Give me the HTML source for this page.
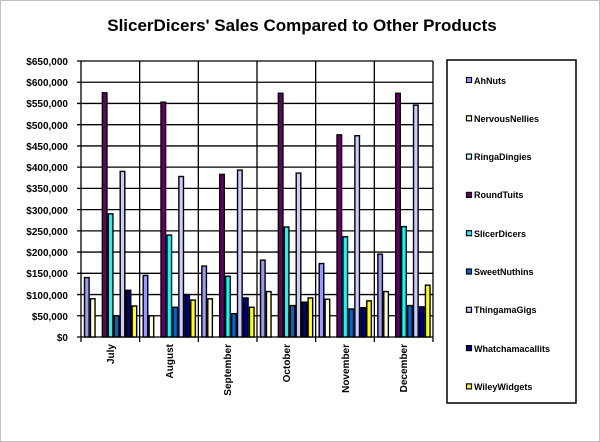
<!DOCTYPE html>
<html><head><style>
body{margin:0;background:#fff}
svg{display:block;font-family:"Liberation Sans",Arial,sans-serif}
</style></head><body>
<svg width="600" height="442" viewBox="0 0 600 442">
<rect x="0.5" y="0.5" width="599" height="441" fill="#fff" stroke="#c0c0c0"/>
<text x="302" y="31" font-size="17" font-weight="bold" text-anchor="middle">SlicerDicers' Sales Compared to Other Products</text>
<g id="grid" stroke="#000" stroke-width="1.3"></g>
<g id="bars" stroke="#000" stroke-width="1.4"></g>
<g font-size="10" font-weight="bold" text-anchor="end">
<text x="68" y="65">$650,000</text>
<text x="68" y="86">$600,000</text>
<text x="68" y="107">$550,000</text>
<text x="68" y="129">$500,000</text>
<text x="68" y="150">$450,000</text>
<text x="68" y="171">$400,000</text>
<text x="68" y="192">$350,000</text>
<text x="68" y="214">$300,000</text>
<text x="68" y="235">$250,000</text>
<text x="68" y="256">$200,000</text>
<text x="68" y="277">$150,000</text>
<text x="68" y="299">$100,000</text>
<text x="68" y="320">$50,000</text>
<text x="68" y="341">$0</text>
</g>
<g font-size="10" font-weight="bold" text-anchor="end">
<text transform="translate(114,344) rotate(-90)">July</text>
<text transform="translate(173,344) rotate(-90)">August</text>
<text transform="translate(231,344) rotate(-90)">September</text>
<text transform="translate(290,344) rotate(-90)">October</text>
<text transform="translate(349,344) rotate(-90)">November</text>
<text transform="translate(407,344) rotate(-90)">December</text>
</g>
<rect x="447" y="60" width="129" height="343" fill="#fff" stroke="#000" stroke-width="1.5"/>
<g font-size="9" font-weight="bold">
<text x="474" y="84">AhNuts</text>
<text x="474" y="122">NervousNellies</text>
<text x="474" y="160">RingaDingies</text>
<text x="474" y="198">RoundTuits</text>
<text x="474" y="237">SlicerDicers</text>
<text x="474" y="275">SweetNuthins</text>
<text x="474" y="313">ThingamaGigs</text>
<text x="474" y="352">Whatchamacallits</text>
<text x="474" y="390">WileyWidgets</text>
</g>
<g id="leg" stroke="#000" stroke-width="1.2"></g>
</svg>
<script>
var NS="http://www.w3.org/2000/svg";
function r(p,x,y,w,h,f){var e=document.createElementNS(NS,"rect");e.setAttribute("x",x);e.setAttribute("y",y);e.setAttribute("width",w);e.setAttribute("height",h);e.setAttribute("fill",f);p.appendChild(e);}
function l(p,x1,y1,x2,y2){var e=document.createElementNS(NS,"line");e.setAttribute("x1",x1);e.setAttribute("y1",y1);e.setAttribute("x2",x2);e.setAttribute("y2",y2);p.appendChild(e);}
var L=81,R=433,T=61,B=337,cw=(R-L)/6;
var g=document.getElementById("grid");
for(var i=0;i<=13;i++){var y=B-i*(B-T)/13;l(g,L-4,y,R,y);}
for(var c=0;c<=6;c++){var x=L+c*cw;l(g,x,T,x,B+5);}
var cols=["#9999ff","#ffffcc","#ccffff","#660066","#00ffff","#0066cc","#ccccff","#000080","#ffff00"];
var data=[
[140,90,0,575,290,50,390,110,73],
[145,50,0,553,240,70,378,100,87],
[167,90,0,383,143,55,393,92,70],
[181,107,0,574,259,74,386,82,92],
[173,89,0,476,236,66,474,69,85],
[195,107,0,574,260,74,546,71,122]];
var bg=document.getElementById("bars");
for(var c=0;c<6;c++)for(var i=0;i<9;i++){var v=data[c][i];if(!v)continue;var h=v*1000/650000*(B-T);r(bg,L+c*cw+3.5+i*5.95,B-h,4.6,h,cols[i]);}
var lg=document.getElementById("leg");
for(var i=0;i<9;i++){r(lg,466.5,77.5+i*38.3,5,5,cols[i]);}
</script>
</body></html>
